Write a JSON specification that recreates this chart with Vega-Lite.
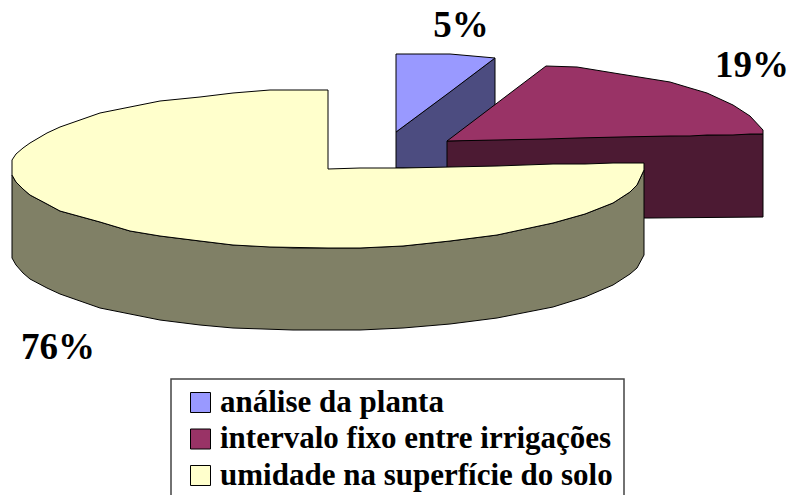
{"$schema":"https://vega.github.io/schema/vega-lite/v6.json","width":792,"height":495,"padding":0,"autosize":"none","background":"white","config":{"view":{"stroke":null}},
"layer":[
{"data":{"values":[{"x":171,"x2":624,"y":379,"y2":510}]},
"mark":{"type":"rect","fill":"white","stroke":"#444444","strokeWidth":1.5,"clip":true},
"encoding":{"x":{"field":"x","type":"quantitative","scale":{"domain":[0,792],"nice":false,"zero":false},"axis":null},"x2":{"field":"x2"},"y":{"field":"y","type":"quantitative","scale":{"domain":[495,0],"nice":false,"zero":false},"axis":null},"y2":{"field":"y2"}}},
{"data":{"values":[
{"part":"análise da planta (lado)","x":396,"y":132,"y2":168},{"part":"análise da planta (lado)","x":495,"y":58,"y2":168},
{"part":"análise da planta","x":396,"y":54,"y2":132},{"part":"análise da planta","x":450,"y":54,"y2":92},{"part":"análise da planta","x":495,"y":58,"y2":58},
{"part":"intervalo (lado)","x":447,"y":141,"y2":218},{"part":"intervalo (lado)","x":540,"y":138,"y2":218},{"part":"intervalo (lado)","x":650,"y":136,"y2":218},{"part":"intervalo (lado)","x":763,"y":134,"y2":217},
{"part":"intervalo fixo entre irrigações","x":447,"y":141,"y2":141},{"part":"intervalo fixo entre irrigações","x":546,"y":66,"y2":139},{"part":"intervalo fixo entre irrigações","x":577,"y":67,"y2":138},{"part":"intervalo fixo entre irrigações","x":620,"y":74,"y2":137},{"part":"intervalo fixo entre irrigações","x":670,"y":82,"y2":136},{"part":"intervalo fixo entre irrigações","x":690,"y":88,"y2":136},{"part":"intervalo fixo entre irrigações","x":707,"y":93,"y2":135},{"part":"intervalo fixo entre irrigações","x":733,"y":105,"y2":135},{"part":"intervalo fixo entre irrigações","x":750,"y":116,"y2":134},{"part":"intervalo fixo entre irrigações","x":763,"y":130,"y2":134},
{"part":"umidade (lado)","x":12,"y":175,"y2":258},{"part":"umidade (lado)","x":16,"y":182,"y2":265},{"part":"umidade (lado)","x":23,"y":189,"y2":273},{"part":"umidade (lado)","x":30,"y":195,"y2":279},{"part":"umidade (lado)","x":47,"y":204,"y2":288},{"part":"umidade (lado)","x":60,"y":211,"y2":294},{"part":"umidade (lado)","x":100,"y":222,"y2":308},{"part":"umidade (lado)","x":130,"y":231,"y2":314},{"part":"umidade (lado)","x":160,"y":236,"y2":320},{"part":"umidade (lado)","x":200,"y":241,"y2":325},{"part":"umidade (lado)","x":233,"y":245,"y2":328},{"part":"umidade (lado)","x":293,"y":248,"y2":330},{"part":"umidade (lado)","x":360,"y":248,"y2":330},{"part":"umidade (lado)","x":403,"y":246,"y2":328},{"part":"umidade (lado)","x":450,"y":241,"y2":324},{"part":"umidade (lado)","x":497,"y":235,"y2":318},{"part":"umidade (lado)","x":553,"y":223,"y2":307},{"part":"umidade (lado)","x":585,"y":214,"y2":297},{"part":"umidade (lado)","x":613,"y":203,"y2":285},{"part":"umidade (lado)","x":630,"y":192,"y2":274},{"part":"umidade (lado)","x":637,"y":185,"y2":268},{"part":"umidade (lado)","x":644,"y":170,"y2":255},
{"part":"umidade na superfície do solo","x":12,"y":160,"y2":175},{"part":"umidade na superfície do solo","x":16,"y":154,"y2":182},{"part":"umidade na superfície do solo","x":23,"y":148,"y2":189},{"part":"umidade na superfície do solo","x":30,"y":143,"y2":195},{"part":"umidade na superfície do solo","x":47,"y":133,"y2":204},{"part":"umidade na superfície do solo","x":60,"y":127,"y2":211},{"part":"umidade na superfície do solo","x":100,"y":113,"y2":222},{"part":"umidade na superfície do solo","x":130,"y":107,"y2":231},{"part":"umidade na superfície do solo","x":160,"y":101,"y2":236},{"part":"umidade na superfície do solo","x":200,"y":97,"y2":241},{"part":"umidade na superfície do solo","x":233,"y":93,"y2":245},{"part":"umidade na superfície do solo","x":270,"y":90,"y2":247},{"part":"umidade na superfície do solo","x":328,"y":90,"y2":248},{"part":"umidade na superfície do solo","x":328,"y":169,"y2":248},{"part":"umidade na superfície do solo","x":360,"y":168,"y2":248},{"part":"umidade na superfície do solo","x":403,"y":168,"y2":246},{"part":"umidade na superfície do solo","x":450,"y":167,"y2":241},{"part":"umidade na superfície do solo","x":497,"y":166,"y2":235},{"part":"umidade na superfície do solo","x":553,"y":164,"y2":223},{"part":"umidade na superfície do solo","x":585,"y":164,"y2":214},{"part":"umidade na superfície do solo","x":613,"y":163,"y2":203},{"part":"umidade na superfície do solo","x":630,"y":163,"y2":192},{"part":"umidade na superfície do solo","x":637,"y":163,"y2":185},{"part":"umidade na superfície do solo","x":644,"y":163,"y2":170}
]},
"mark":{"type":"area","orient":"vertical","stroke":"black","strokeWidth":1,"opacity":1},
"encoding":{
"x":{"field":"x","type":"quantitative","axis":null},
"y":{"field":"y","type":"quantitative","axis":null,"stack":null},
"y2":{"field":"y2"},
"color":{"field":"part","type":"nominal","sort":null,
"scale":{"domain":["análise da planta","intervalo fixo entre irrigações","umidade na superfície do solo","análise da planta (lado)","intervalo (lado)","umidade (lado)"],"range":["#9999ff","#993366","#ffffcc","#4c4c80","#4c1a33","#808066"]},
"legend":{"values":["análise da planta","intervalo fixo entre irrigações","umidade na superfície do solo"],"title":null,"orient":"none","legendX":185,"legendY":387,"padding":0,"labelFont":"Liberation Serif","labelFontWeight":"bold","labelFontSize":31,"labelColor":"black","labelLimit":600,"labelOffset":4,"symbolType":"square","symbolSize":400,"symbolStrokeColor":"black","symbolStrokeWidth":1,"symbolOpacity":1,"rowPadding":4.5,"columnPadding":0}}
}},
{"data":{"values":[{"label":"5%","x":461,"y":26},{"label":"19%","x":752,"y":66},{"label":"76%","x":58,"y":348}]},
"mark":{"type":"text","font":"Liberation Serif","fontWeight":"bold","fontSize":37,"color":"black","align":"center","baseline":"middle"},
"encoding":{"x":{"field":"x","type":"quantitative"},"y":{"field":"y","type":"quantitative"},"text":{"field":"label"}}}
]}
